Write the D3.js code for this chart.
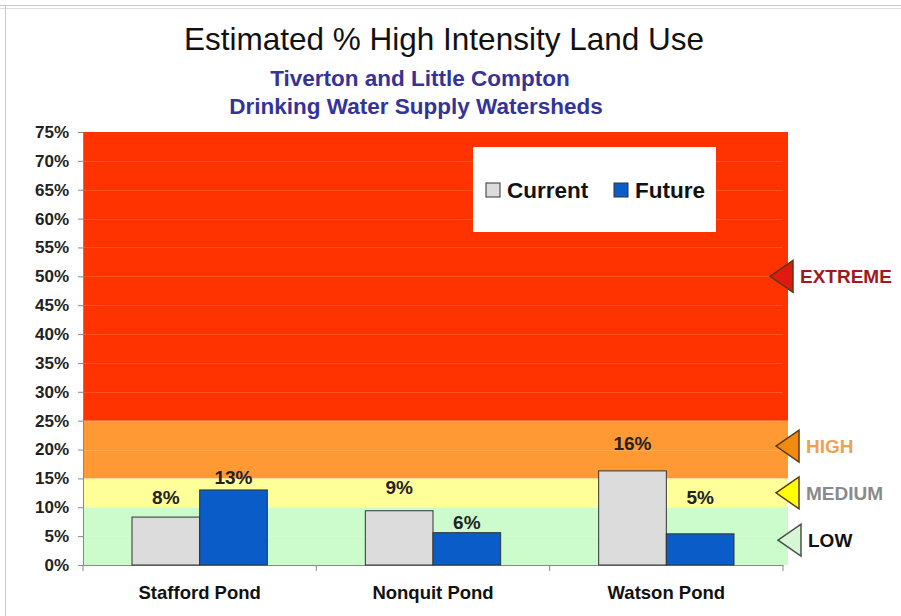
<!DOCTYPE html>
<html>
<head>
<meta charset="utf-8">
<script src="https://cdn.jsdelivr.net/npm/d3@7"></script>
<style>
html,body{margin:0;padding:0;background:#fff;}
svg{display:block;font-family:"Liberation Sans",Arial,sans-serif;}
</style>
</head>
<body>
<svg id="chart" width="901" height="616"></svg>
<script>
const categories = ["Stafford Pond", "Nonquit Pond", "Watson Pond"];
const seriesNames = ["Current", "Future"];
const currentValues = [8.3, 9.4, 16.3];
const futureValues = [13.0, 5.6, 5.4];
const currentLabelAt = [11.8, 13.5, 21.1];
const futureLabelAt = [15.1, 7.4, 11.8];
const yTicks = [0,5,10,15,20,25,30,35,40,45,50,55,60,65,70,75];
const zoneNames = ["LOW", "MEDIUM", "HIGH", "EXTREME"];
const zoneFrom = [0, 10, 15, 25];
const zoneTo = [10, 15, 25, 75];
const zoneMarkerAt = [4.3, 12.5, 20.6, 50];

const zoneFill = ["#ccfccc", "#ffff99", "#ff9933", "#ff3300"];
const markerFill = ["#d8f5d8", "#ffff00", "#f08a10", "#e01a10"];
const markerText = ["#111111", "#8a8a8a", "#f0a050", "#a01820"];
const seriesFill = ["#dcdcdc", "#0a5cc8"];

const svg = d3.select("#chart");
const pL = 83, pR = 783, pT = 132, pB = 565;

// frame
svg.append("line").attr("x1",0).attr("x2",901).attr("y1",5.5).attr("y2",5.5).attr("stroke","#c8c8c8");
svg.append("line").attr("x1",0).attr("x2",901).attr("y1",8.5).attr("y2",8.5).attr("stroke","#dcdcdc");
svg.append("line").attr("x1",5.5).attr("x2",5.5).attr("y1",5).attr("y2",616).attr("stroke","#c8c8c8");

const y = d3.scaleLinear().domain([0,75]).range([pB, pT]);
const x0 = d3.scaleBand().domain(categories).range([pL, pR]).paddingInner(0.42).paddingOuter(0.21);
const x1 = d3.scaleBand().domain(seriesNames).range([0, x0.bandwidth()]);

// zones
svg.append("g").selectAll("rect").data(zoneNames).join("rect")
  .attr("x", pL).attr("width", pR + 5 - pL)
  .attr("y", (d,i)=>y(zoneTo[i])).attr("height",(d,i)=>y(zoneFrom[i])-y(zoneTo[i]))
  .attr("fill",(d,i)=>zoneFill[i]);

// faint gridlines
svg.append("g").selectAll("line").data(yTicks.filter(t=>t>0 && t<75)).join("line")
  .attr("x1", pL).attr("x2", pR)
  .attr("y1", d=>Math.round(y(d))+0.5).attr("y2", d=>Math.round(y(d))+0.5)
  .attr("stroke","#ffffff").attr("stroke-opacity",0.15);

// y axis
const yAxis = svg.append("g").attr("transform",`translate(${pL},0)`)
  .call(d3.axisLeft(y).tickValues(yTicks).tickFormat(d=>d+"%").tickSize(5).tickPadding(9));
yAxis.select(".domain").attr("stroke","#888");
yAxis.selectAll(".tick line").attr("stroke","#888");
yAxis.selectAll("text").attr("font-size",17).attr("font-weight","bold").attr("fill","#222")
  .attr("font-family","'Liberation Sans',Arial,sans-serif");

// x axis
const xAxis = svg.append("g").attr("transform",`translate(0,${pB})`)
  .call(d3.axisBottom(x0).tickSize(0).tickPadding(21));
xAxis.select(".domain").attr("stroke","#888");
xAxis.selectAll("text").attr("font-size",18.5).attr("font-weight","bold").attr("fill","#111")
  .attr("font-family","'Liberation Sans',Arial,sans-serif");
const step = (pR-pL)/categories.length;
svg.append("g").selectAll("line").data(d3.range(categories.length+1)).join("line")
  .attr("x1", i=>pL+i*step).attr("x2", i=>pL+i*step)
  .attr("y1", pB).attr("y2", pB+6).attr("stroke","#888");

// bars
const groups = svg.append("g").selectAll("g").data(categories).join("g")
  .attr("transform", d=>`translate(${x0(d)},0)`);
const seriesVals = [currentValues, futureValues];
const labelAt = [currentLabelAt, futureLabelAt];
const rows = (d,i)=>seriesNames.map((s,j)=>({s, v:seriesVals[j][i], l:labelAt[j][i], j}));
groups.selectAll("rect").data(rows).join("rect")
  .attr("x", d=>x1(d.s)).attr("width", x1.bandwidth())
  .attr("y", d=>y(d.v)).attr("height", d=>y(0)-y(d.v))
  .attr("fill", d=>seriesFill[d.j]).attr("stroke","#333").attr("stroke-width",1);
groups.selectAll("text").data(rows).join("text")
  .attr("x", d=>x1(d.s)+x1.bandwidth()/2).attr("y", d=>y(d.l)).attr("dy","0.35em")
  .attr("text-anchor","middle").attr("font-size",19).attr("font-weight","bold").attr("fill","#222")
  .text(d=>Math.round(d.v)+"%");

// legend
const lg = svg.append("g").attr("transform","translate(473,147)");
lg.append("rect").attr("width",243).attr("height",85).attr("fill","#fff");
const lx = [13, 141];
seriesNames.forEach((s,i)=>{
  lg.append("rect").attr("x",lx[i]).attr("y",36).attr("width",14).attr("height",14)
    .attr("fill",seriesFill[i]).attr("stroke","#333");
  lg.append("text").attr("x",lx[i]+21).attr("y",43).attr("dy","0.36em")
    .attr("font-size",22.5).attr("font-weight","bold").attr("fill","#111").text(s);
});

// zone markers
const mk = svg.append("g");
zoneNames.forEach((z,i)=>{
  const cy = y(zoneMarkerAt[i]);
  const tip = 770 + (i===3?0:(i===0?8:6));
  mk.append("path").attr("d",`M${tip},${cy} L${tip+23},${cy-16} L${tip+23},${cy+16} Z`)
    .attr("fill",markerFill[i]).attr("stroke", i===0?"#445544":"#5a3a10").attr("stroke-width",1.5);
  mk.append("text").attr("x", tip+30).attr("y", cy).attr("dy","0.36em")
    .attr("font-size",19).attr("font-weight","bold").attr("fill",markerText[i]).text(z);
});

// titles
svg.append("text").attr("x",444).attr("y",50).attr("text-anchor","middle")
  .attr("font-size",31.5).attr("fill","#111").text("Estimated % High Intensity Land Use");
svg.append("text").attr("x",420).attr("y",86).attr("text-anchor","middle")
  .attr("font-size",22.5).attr("font-weight","bold").attr("fill","#333399").text("Tiverton and Little Compton");
svg.append("text").attr("x",416).attr("y",114).attr("text-anchor","middle")
  .attr("font-size",22.5).attr("font-weight","bold").attr("fill","#333399").text("Drinking Water Supply Watersheds");
</script>
</body>
</html>
